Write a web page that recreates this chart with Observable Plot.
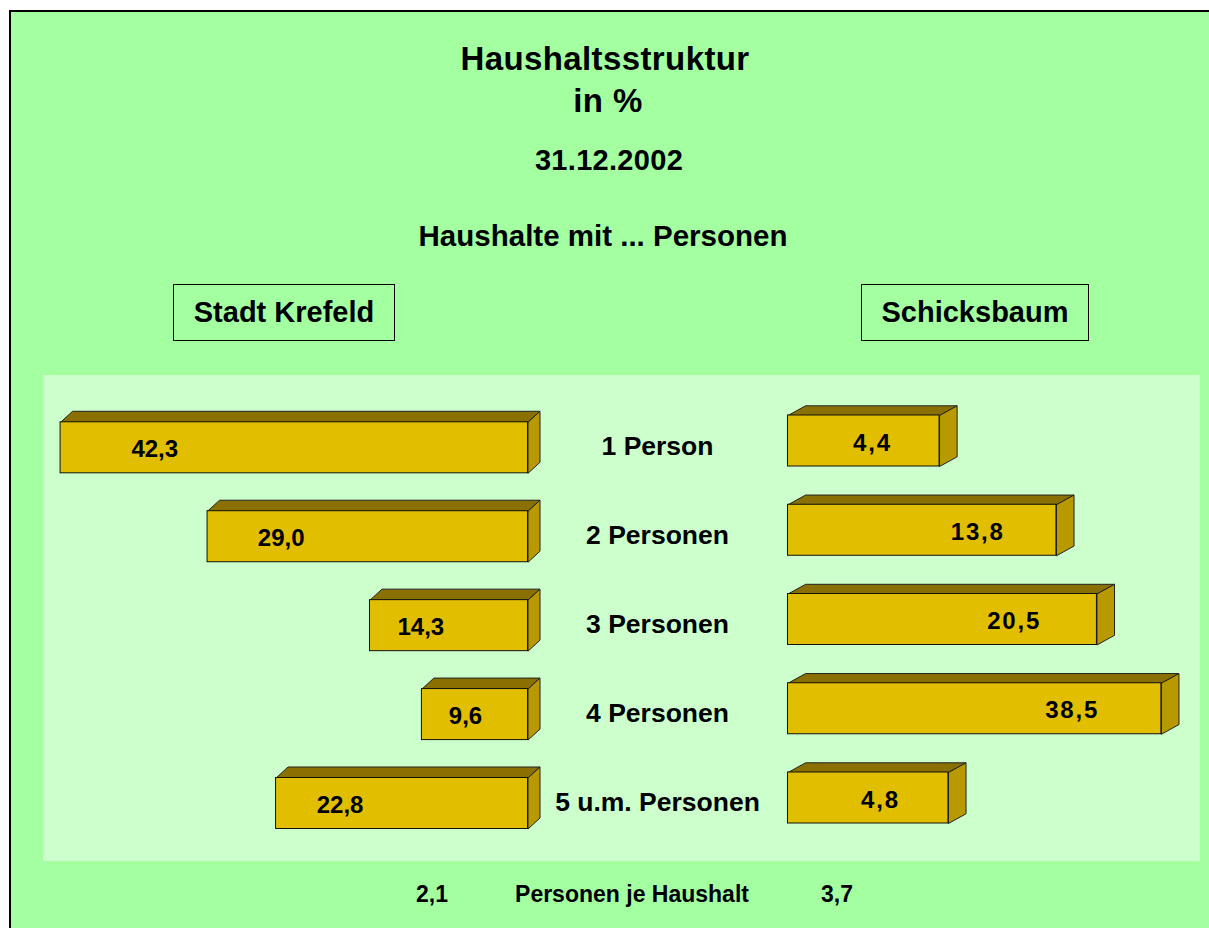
<!DOCTYPE html>
<html>
<head>
<meta charset="utf-8">
<script src="https://cdn.jsdelivr.net/npm/d3@7"></script>
<script src="https://cdn.jsdelivr.net/npm/@observablehq/plot@0.6"></script>
<style>
  html, body { margin: 0; padding: 0; background: #ffffff; overflow: hidden; }
  body { position: relative; width: 1209px; height: 928px; font-family: "Liberation Sans", Arial, sans-serif; font-weight: bold; color: #000; }
  .frame { position: absolute; left: 9px; top: 10px; width: 1300px; height: 1000px; background: #A3FFA0; border-left: 2px solid #000; border-top: 2px solid #000; }
  .t { position: absolute; white-space: nowrap; line-height: 1; transform: translateX(-50%); }
  .box { position: absolute; box-sizing: border-box; border: 1.5px solid #000; display: flex; align-items: center; justify-content: center; font-size: 29px; line-height: 1; }
  .panel { position: absolute; left: 43px; top: 375px; width: 1157px; height: 486px; background: #CCFFCC; }
  .plot { position: absolute; }
  .right g[aria-label="text"] text { letter-spacing: 1.8px; }
</style>
</head>
<body>
<div class="frame"></div>
<div class="t" style="left:605px; top:42px; font-size:33px; letter-spacing:0.4px;">Haushaltsstruktur</div>
<div class="t" style="left:608px; top:84px; font-size:33px; letter-spacing:0.4px;">in %</div>
<div class="t" style="left:609px; top:146px; font-size:29px; letter-spacing:0.3px;">31.12.2002</div>
<div class="t" style="left:603px; top:221px; font-size:29.5px;">Haushalte mit ... Personen</div>
<div class="box" id="boxL" style="left:173px; top:284px; width:222px; height:57px;"></div>
<div class="box" id="boxR" style="left:861px; top:284px; width:228px; height:57px;"></div>
<div class="panel"></div>
<div id="left" class="plot" style="left:43px; top:376px;"></div>
<div id="right" class="plot right" style="left:760px; top:376px;"></div>
<div id="avgL" class="t" style="left:432px; top:883px; font-size:23px;"></div>
<div id="avgLabel" class="t" style="left:632px; top:883px; font-size:23px;"></div>
<div id="avgR" class="t" style="left:837px; top:883px; font-size:23px;"></div>
<script>
// ---- data ----
const categories = ["1 Person", "2 Personen", "3 Personen", "4 Personen", "5 u.m. Personen"];
const krefeld = [42.3, 29.0, 14.3, 9.6, 22.8];
const schicksbaum = [4.4, 13.8, 20.5, 38.5, 4.8];
const regions = ["Stadt Krefeld", "Schicksbaum"];
const personsPerHousehold = [2.1, 3.7];
const personsLabel = "Personen je Haushalt";

const fmt = v => v.toLocaleString("de-DE", {minimumFractionDigits: 1, maximumFractionDigits: 1});

document.getElementById("boxL").textContent = regions[0];
document.getElementById("boxR").textContent = regions[1];
document.getElementById("avgL").textContent = fmt(personsPerHousehold[0]);
document.getElementById("avgR").textContent = fmt(personsPerHousehold[1]);
document.getElementById("avgLabel").textContent = personsLabel;

const FRONT = "#E2BE00", TOP = "#8A7000", SIDE = "#B89900";
const font = "'Liberation Sans', Arial, sans-serif";

// ---- left panel (linear, growing leftwards) ----
const lPx = 11.05;           // px per percent
const lBase = 484.5;         // base position within the svg
const ldx = -12 / lPx;       // depth, in value units
const ldy = -11 / 88.9;      // depth, in row units
const lh = 25.5 / 88.9;      // half bar thickness

const leftRows = krefeld.map((v, i) => ({v, i, label: fmt(v), cat: categories[i]}));
const leftTop = leftRows.flatMap(({v, i}) => [[v, i - lh], [0, i - lh], [ldx, i - lh + ldy], [v + ldx, i - lh + ldy], [v, i - lh]].map(([x, y]) => ({x, y, id: i})));
const leftSide = leftRows.flatMap(({v, i}) => [[0, i - lh], [ldx, i - lh + ldy], [ldx, i + lh + ldy], [0, i + lh], [0, i - lh]].map(([x, y]) => ({x, y, id: i})));

const leftPlot = Plot.plot({
  width: 744, height: 484, margin: 0,
  style: {background: "transparent", fontFamily: font, overflow: "visible"},
  x: {type: "linear", domain: [0, 44], range: [lBase, lBase - lPx * 44], axis: null},
  y: {type: "linear", domain: [0, 4], range: [71.3, 427], axis: null},
  marks: [
    Plot.line(leftTop, {x: "x", y: "y", z: "id", fill: TOP, stroke: "#222", strokeWidth: 1, strokeLinejoin: "miter"}),
    Plot.line(leftSide, {x: "x", y: "y", z: "id", fill: SIDE, stroke: "#222", strokeWidth: 1, strokeLinejoin: "miter"}),
    Plot.rect(leftRows, {x1: "v", x2: () => 0, y1: d => d.i - lh, y2: d => d.i + lh, fill: FRONT, stroke: "#111", strokeWidth: 1}),
    Plot.text(leftRows, {x: d => d.v * 0.86 - 2.6, y: "i", text: "label", fontSize: 24, fontWeight: "bold", fill: "#000", dy: 2}),
    Plot.text(leftRows, {x: () => 0, y: "i", text: "cat", fontSize: 26.5, fontWeight: "bold", fill: "#000", dx: 129.5, dy: -1})
  ]
});
document.getElementById("left").appendChild(leftPlot);

// ---- right panel (logarithmic, growing rightwards) ----
const rDecade = 235.5;                 // px per decade
const rk = Math.pow(10, 17.6 / rDecade); // depth factor
const rdy = -9.7 / 89.25;
const rh = 25.5 / 89.25;

const rightRows = schicksbaum.map((v, i) => ({v, i, label: fmt(v)}));
const rightTop = rightRows.flatMap(({v, i}) => [[1, i - rh], [v, i - rh], [v * rk, i - rh + rdy], [rk, i - rh + rdy], [1, i - rh]].map(([x, y]) => ({x, y, id: i})));
const rightSide = rightRows.flatMap(({v, i}) => [[v, i - rh], [v * rk, i - rh + rdy], [v * rk, i + rh + rdy], [v, i + rh], [v, i - rh]].map(([x, y]) => ({x, y, id: i})));

const rightPlot = Plot.plot({
  width: 440, height: 484, margin: 0,
  style: {background: "transparent", fontFamily: font, overflow: "visible"},
  x: {type: "log", domain: [1, 100], range: [27.5, 27.5 + 2 * rDecade], axis: null},
  y: {type: "linear", domain: [0, 4], range: [64.5, 421.5], axis: null},
  marks: [
    Plot.line(rightTop, {x: "x", y: "y", z: "id", fill: TOP, stroke: "#222", strokeWidth: 1, strokeLinejoin: "miter"}),
    Plot.line(rightSide, {x: "x", y: "y", z: "id", fill: SIDE, stroke: "#222", strokeWidth: 1, strokeLinejoin: "miter"}),
    Plot.rect(rightRows, {x1: () => 1, x2: "v", y1: d => d.i - rh, y2: d => d.i + rh, fill: FRONT, stroke: "#111", strokeWidth: 1}),
    Plot.text(rightRows, {x: d => 0.602 * Math.pow(d.v, 0.9), y: "i", text: "label", fontSize: 24, fontWeight: "bold", fill: "#000", dy: 2})
  ]
});
document.getElementById("right").appendChild(rightPlot);
</script>
</body>
</html>
